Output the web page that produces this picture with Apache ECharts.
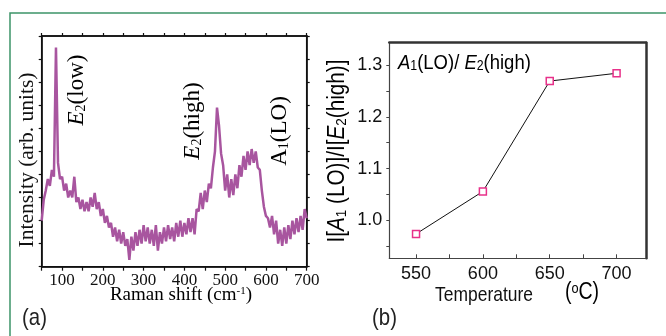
<!DOCTYPE html>
<html><head><meta charset="utf-8">
<script src="https://cdn.jsdelivr.net/npm/echarts@6/dist/echarts.min.js"></script>
<style>html,body{margin:0;padding:0;background:#fff}#c{width:666px;height:336px}</style>
</head><body><div id="c"></div>
<script>
// Panel (a): Raman spectrum
var ramanShift = [50,55,60,65,70,75,80,85,90,95,100,105,110,115,120,125,130,135,140,145,150,155,160,165,170,175,180,185,190,195,200,205,210,215,220,225,230,235,240,245,250,255,260,265,270,275,280,285,290,295,300,305,310,315,320,325,330,335,340,345,350,355,360,365,370,375,380,385,390,395,400,405,410,415,420,425,430,435,440,445,450,455,460,465,470,475,480,485,490,495,500,505,510,515,520,525,530,535,540,545,550,555,560,565,570,575,580,585,590,595,600,605,610,615,620,625,630,635,640,645,650,655,660,665,670,675,680,685,690,695,700];
var intensity = [2.0,2.9,3.3,3.8,3.5,4.2,3.9,9.5,4.5,3.8,3.9,3.3,3.6,3.0,3.3,3.0,3.9,2.8,3.0,2.5,2.9,2.4,2.8,2.4,3.0,2.6,3.2,2.5,2.8,2.2,2.5,1.9,2.2,1.7,1.9,1.3,1.7,1.1,1.6,1.0,1.5,0.9,1.2,0.3,1.3,0.7,1.5,0.9,1.6,1.0,1.8,1.1,1.7,1.0,1.6,0.9,1.8,0.7,1.5,1.0,1.7,1.1,1.8,1.2,1.7,1.1,1.9,1.3,2.0,1.3,1.9,1.4,2.1,1.5,2.1,1.4,2.5,2.4,3.2,2.5,3.3,2.8,3.6,3.4,4.3,5.0,6.9,6.1,4.9,4.4,3.3,4.0,3.0,3.8,3.1,4.0,3.4,4.4,3.9,4.8,4.2,5.0,4.4,5.1,4.5,5.0,4.3,4.2,3.3,2.6,2.2,2.1,1.7,2.2,1.4,2.0,1.0,1.6,0.9,1.7,1.0,1.8,1.2,2.0,1.4,2.1,1.5,2.2,1.6,2.5,2.1];
var ramanTickLabels = [100,200,300,400,500,600,700];

// Panel (b): intensity ratio vs temperature
var temperature = [550,600,650,700];
var ratio = [0.974,1.056,1.269,1.284];
var tempTickLabels = [550,600,650,700];
var tempTicks = [550,575,600,625,650,675,700];
var ratioTickLabels = [1.0,1.1,1.2,1.3];
var ratioTicks = [0.95,1.0,1.05,1.1,1.15,1.2,1.25,1.3];

var SERIF = "'Liberation Serif','Times New Roman',serif";
var SANS = "'Liberation Sans Narrow','Arial Narrow','Liberation Sans',Arial,sans-serif";

var chart = echarts.init(document.getElementById('c'), null, {renderer:'canvas'});

function serifRich(size){
  return {
    n:{fontFamily:SERIF,fontSize:size,color:'#111'},
    i:{fontFamily:SERIF,fontSize:size,fontStyle:'italic',color:'#111'},
    sub:{fontFamily:SERIF,fontSize:Math.round(size*0.6),color:'#111',verticalAlign:'bottom'},
    sup:{fontFamily:SERIF,fontSize:Math.round(size*0.6),color:'#111',verticalAlign:'top'}
  };
}
function sansRich(size){
  return {
    n:{fontFamily:SANS,fontSize:size,color:'#111'},
    i:{fontFamily:SANS,fontSize:size,fontStyle:'italic',color:'#111'},
    sub:{fontFamily:SANS,fontSize:Math.round(size*0.65),color:'#111',verticalAlign:'bottom'},
    sup:{fontFamily:SANS,fontSize:Math.round(size*0.65),color:'#111',verticalAlign:'top'}
  };
}

var option = {
  animation:false,
  backgroundColor:'#fff',
  grid:[
    {left:41.7, top:36, width:265, height:230.7, show:true, backgroundColor:'transparent', borderColor:'#111', borderWidth:1.5},
    {left:389.3, top:42.7, width:256.7, height:215.6}
  ],
  xAxis:[
    {gridIndex:0, type:'value', min:50, max:700, interval:50, position:'bottom',
     axisLine:{onZero:false,lineStyle:{color:'#111',width:1.5}},
     axisTick:{inside:false,length:4,lineStyle:{color:'#111',width:1.2}},
     splitLine:{show:false},
     axisLabel:{margin:5, fontFamily:SERIF, fontSize:17, color:'#111',
       formatter:function(v){return ramanTickLabels.indexOf(v)>=0?String(v):'';}}},
    {gridIndex:0, type:'value', min:50, max:700, interval:50, position:'top', offset:0,
     axisLine:{show:true,onZero:false,lineStyle:{color:'#111',width:1.5}},
     axisTick:{show:true,inside:false,length:3,lineStyle:{color:'#111',width:1.2}},
     splitLine:{show:false}, axisLabel:{show:false}},
    {gridIndex:1, type:'value', min:530, max:722, position:'bottom',
     axisLine:{onZero:false,lineStyle:{color:'#444',width:1.2}},
     axisTick:{inside:true,length:4,customValues:tempTicks,lineStyle:{color:'#444',width:1}},
     splitLine:{show:false},
     axisLabel:{margin:7, fontFamily:SANS, fontSize:18, color:'#111', customValues:tempTickLabels}},
    {gridIndex:1, type:'value', min:530, max:722, position:'top',
     axisLine:{onZero:false,lineStyle:{color:'#333',width:2.5}},
     axisTick:{show:false}, splitLine:{show:false}, axisLabel:{show:false}}
  ],
  yAxis:[
    {gridIndex:0, type:'value', min:0, max:10, interval:1, position:'left',
     axisLine:{show:true,onZero:false,lineStyle:{color:'#111',width:1.5}},
     axisTick:{show:true,inside:false,length:3,lineStyle:{color:'#111',width:1.2}},
     splitLine:{show:false}, axisLabel:{show:false}},
    {gridIndex:0, type:'value', min:0, max:10, interval:1, position:'right',
     axisLine:{show:true,onZero:false,lineStyle:{color:'#111',width:1.5}},
     axisTick:{show:true,inside:false,length:3,lineStyle:{color:'#111',width:1.2}},
     splitLine:{show:false}, axisLabel:{show:false}},
    {gridIndex:1, type:'value', min:0.927, max:1.343, position:'left',
     axisLine:{show:true,onZero:false,lineStyle:{color:'#444',width:1.2}},
     axisTick:{show:true,inside:false,length:3,customValues:ratioTicks,lineStyle:{color:'#444',width:1}},
     splitLine:{show:false},
     axisLabel:{margin:7, fontFamily:SANS, fontSize:18, color:'#111', customValues:ratioTickLabels,
       formatter:function(v){return v.toFixed(1);}}},
    {gridIndex:1, type:'value', min:0.927, max:1.343, position:'right',
     axisLine:{show:true,onZero:false,lineStyle:{color:'#333',width:2.5}},
     axisTick:{show:false}, splitLine:{show:false}, axisLabel:{show:false}}
  ],
  series:[
    {type:'line', xAxisIndex:0, yAxisIndex:0, showSymbol:false, symbol:'none',
     data: ramanShift.map(function(x,i){return [x,intensity[i]];}),
     lineStyle:{color:'#a8559f',width:2.5}},
    {type:'line', xAxisIndex:1, yAxisIndex:0, showSymbol:false, symbol:'none', silent:true,
     data: [], lineStyle:{width:0}},
    {type:'line', xAxisIndex:2, yAxisIndex:2, symbol:'rect', symbolSize:7,
     data: temperature.map(function(x,i){return [x,ratio[i]];}),
     lineStyle:{color:'#111',width:1},
     itemStyle:{color:'#fff',borderColor:'#e8318a',borderWidth:1.5}}
  ],
  graphic:[
    {type:'polyline', shape:{points:[[10,336],[10,13],[666,13]]}, style:{stroke:'#3d9468',lineWidth:1.5,fill:null}},
    {type:'text', x:22, y:318, scaleX:0.85, style:{text:'(a)', fontFamily:SANS, fontSize:24, fill:'#222', verticalAlign:'middle'}},
    {type:'text', x:372, y:318, scaleX:0.85, style:{text:'(b)', fontFamily:SANS, fontSize:24, fill:'#222', verticalAlign:'middle'}},
    {type:'text', x:181, y:295, style:{text:'{n|Raman shift (cm}{sup|-1}{n|)}', rich:serifRich(19), align:'center', verticalAlign:'middle'}},
    {type:'text', x:27, y:160, rotation:Math.PI/2, style:{text:'Intensity (arb. units)', fontFamily:SERIF, fontSize:21.5, fill:'#111', align:'center', verticalAlign:'middle'}},
    {type:'text', x:77, y:90, rotation:Math.PI/2, style:{text:'{i|E}{sub|2}{n|(low)}', rich:serifRich(23), align:'center', verticalAlign:'middle'}},
    {type:'text', x:193, y:121, rotation:Math.PI/2, style:{text:'{i|E}{sub|2}{n|(high)}', rich:serifRich(23), align:'center', verticalAlign:'middle'}},
    {type:'text', x:280, y:131, rotation:Math.PI/2, style:{text:'{n|A}{sub|1}{n|(LO)}', rich:serifRich(23), align:'center', verticalAlign:'middle'}},
    {type:'text', x:338, y:151, rotation:Math.PI/2, scaleX:0.9, style:{text:'{n|I[}{i|A}{sub|1}{n| (LO)]/I[}{i|E}{sub|2}{n|(high)]}', rich:sansRich(23), align:'center', verticalAlign:'middle'}},
    {type:'text', x:398, y:63, scaleX:0.88, style:{text:'{i|A}{sub|1}{n|(LO)/ }{i|E}{sub|2}{n|(high)}', rich:sansRich(21), align:'left', verticalAlign:'middle'}},
    {type:'text', x:484, y:295, scaleX:0.83, style:{text:'Temperature', fontFamily:SANS, fontSize:21, fill:'#111', align:'center', verticalAlign:'middle'}},
    {type:'text', x:582, y:293, scaleX:0.85, style:{text:'{n|(}{sup|o}{n|C)}', rich:sansRich(23), align:'center', verticalAlign:'middle'}}
  ]
};
chart.setOption(option);
</script></body></html>
